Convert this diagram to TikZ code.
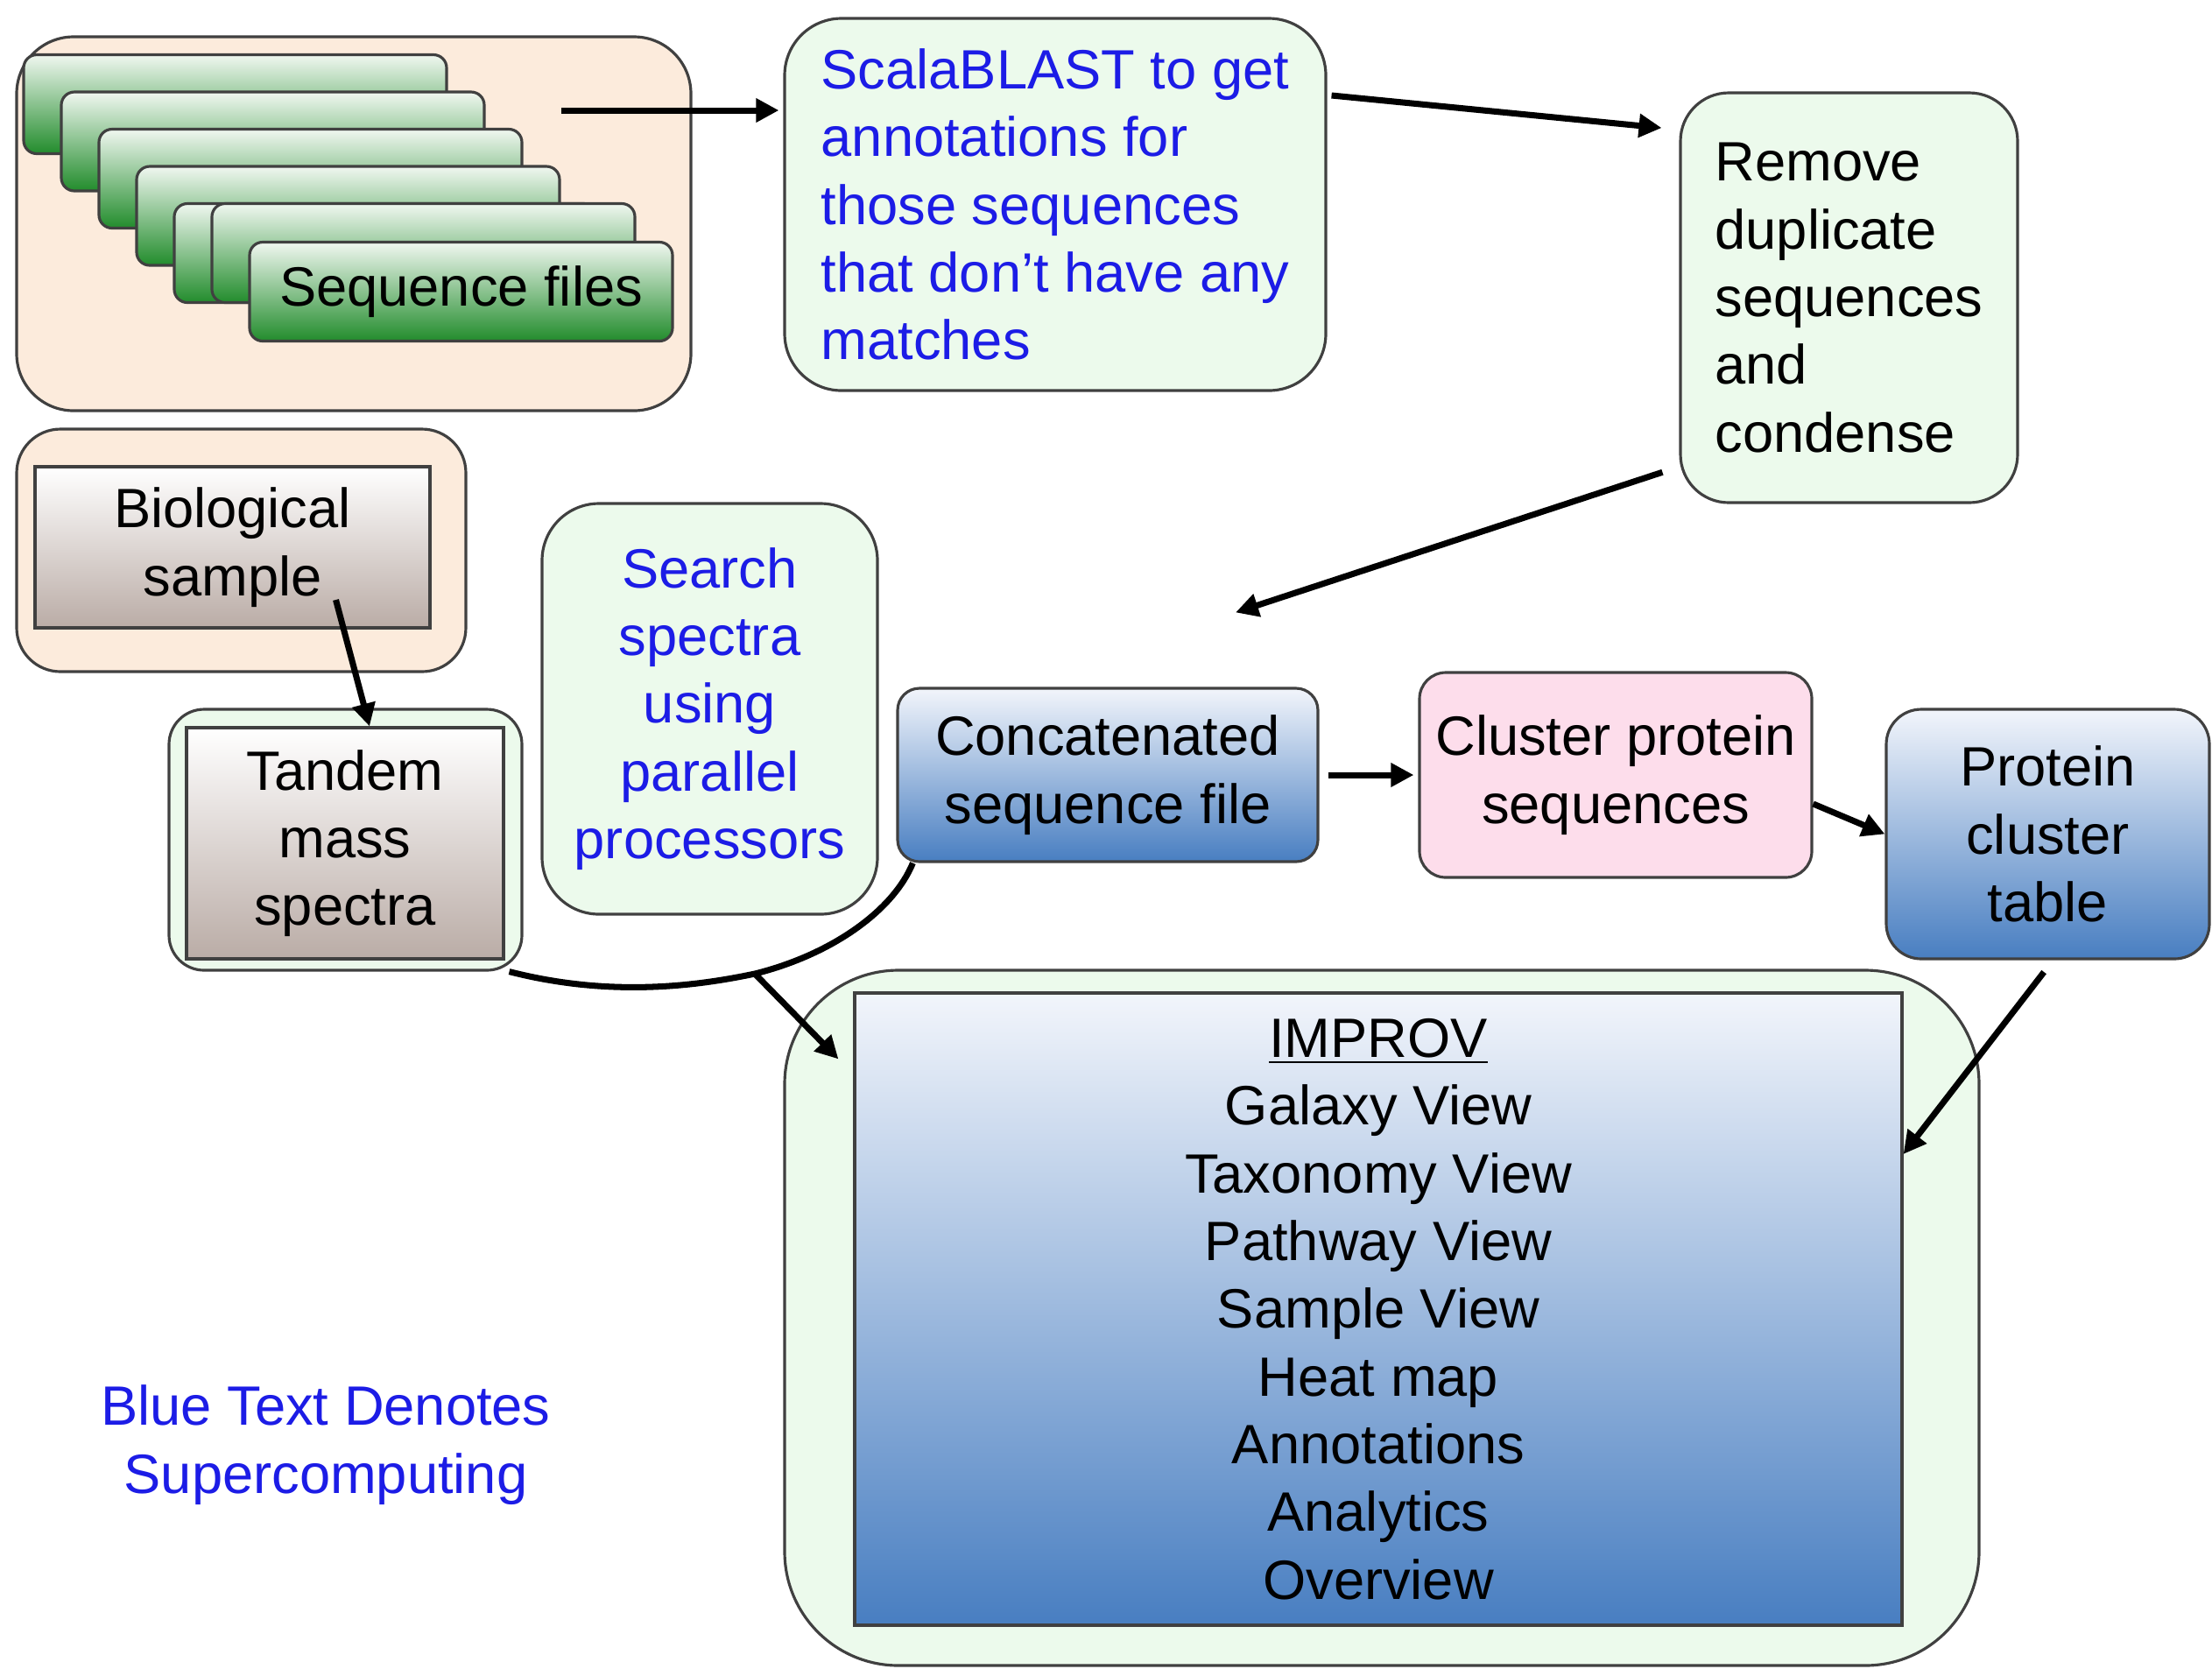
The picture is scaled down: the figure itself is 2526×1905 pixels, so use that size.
\documentclass[tikz,border=0pt]{standalone}
\usepackage{fontspec}
\setmainfont{Liberation Sans}
\usetikzlibrary{positioning,arrows.meta}
\definecolor{colorpeach}    {RGB}{252,235,220}
\definecolor{colormint}     {RGB}{236,250,236}
\definecolor{colorpink}     {RGB}{253,221,235}
\definecolor{colorline}     {RGB}{64 ,64 ,64 }
\definecolor{colorblue}     {RGB}{28 ,28 ,230}
\definecolor{colorsky}      {RGB}{242,245,251}
\definecolor{colorsteel}    {RGB}{72 ,126,193}
\definecolor{colorfog}      {RGB}{240,247,240}
\definecolor{colorleaf}     {RGB}{34 ,140,44 }
\definecolor{colortaupe}    {RGB}{186,172,166}

\begin{document}
\begin{tikzpicture}[
    x=0.1mm, y=-0.1mm,
    font={\fontsize{18}{22}\selectfont},
    panel/.style={draw=colorline,line width=0.9pt,fill=colormint,rounded corners=6mm},
    peach/.style={panel,fill=colorpeach},
    filebox/.style={draw=colorline,line width=0.9pt,rounded corners=1.5mm,top color=colorfog,bottom color=colorleaf,minimum width=48.3mm,minimum height=11.3mm},
    sample/.style={draw=colorline,line width=0.9pt,top color=white,bottom color=colortaupe,align=center},
    result/.style={draw=colorline,line width=0.9pt,rounded corners=3mm,top color=colorsky,bottom color=colorsteel,align=center},
    arr/.style={line width=2pt,-{Triangle[length=2.6mm,width=2.6mm]}},
    link/.style={line width=2pt},
]
    \useasboundingbox (0,0) rectangle (2526,1905);

    \node[peach,minimum width=77mm,minimum height=42.7mm,rounded corners=6.5mm] (seqgroup) at (404,255.5) {};
    \foreach \i/\j in {0/0,1/1,2/2,3/3,4/4,5/4}
        \node[filebox] (file\i) at ({268.5+43*\i},{119+42.5*\j}) {};
    \node[filebox] (seqfiles) at (526.5,333) {Sequence files};
    \coordinate (seqout) at (641,126);

    \node[panel,text=colorblue,align=left,minimum width=61.8mm,minimum height=42.5mm,rounded corners=6.5mm] (scala) at (1205,233.5) {ScalaBLAST to get\\
    annotations for\\
    those sequences\\
    that don’t have any\\
    matches};
    \node[panel,align=left,minimum width=38.5mm,minimum height=46.8mm,rounded corners=5.5mm] (remove) at (2111.5,340) {Remove\\
    duplicate\\
    sequences\\
    and\\
    condense};

    \node[peach,minimum width=51.3mm,minimum height=27.7mm,rounded corners=5mm] (biogroup) at (275.5,628.5) {};
    \node[sample,minimum width=45.1mm,minimum height=18.4mm] (bio) at (265.5,625) {Biological\\sample};
    \node[panel,minimum width=40.3mm,minimum height=29.8mm,rounded corners=4mm] (tandemgroup) at (394.5,959) {};
    \node[sample,minimum width=36.2mm,minimum height=26.4mm] (tandem) at (394,963) {Tandem\\mass\\spectra};

    \node[panel,text=colorblue,align=center,minimum width=38.3mm,minimum height=46.9mm,rounded corners=6.5mm] (search) at (810.5,809.5) {Search\\
    spectra\\
    using\\
    parallel\\
    processors};

    \node[result,minimum width=48mm,minimum height=19.8mm,rounded corners=2.5mm] (concat) at (1265,885) {Concatenated\\sequence file};
    \node[panel,fill=colorpink,align=center,inner xsep=1mm,minimum width=44.8mm,minimum height=23.4mm,rounded corners=3mm] (cluster) at (1845,885) {Cluster protein\\sequences};
    \node[result,minimum width=36.9mm,minimum height=28.5mm,rounded corners=4mm] (table) at (2338.5,952.5) {Protein\\cluster\\table};

    \node[panel,minimum width=136.4mm,minimum height=79.4mm,rounded corners=13mm] (improvgroup) at (1578,1505) {};
    \node[result,sharp corners,minimum width=119.6mm,minimum height=72.2mm] (improv) at (1574,1495) {\underline{IMPROV}\\
    Galaxy View\\
    Taxonomy View\\
    Pathway View\\
    Sample View\\
    Heat map\\
    Annotations\\
    Analytics\\
    Overview};

    \node[text=colorblue,align=center] (legend) at (372,1650) {Blue Text Denotes\\Supercomputing};

    \draw[arr,shorten >=0.5mm] (seqout) -- (seqout -| scala.west);
    \draw[arr,shorten <=0.5mm,shorten >=2mm] ([yshift=12.5mm]scala.east) -- ([yshift=19.2mm]remove.west);
    \draw[arr,shorten <=2mm] ([yshift=-19.3mm]remove.west) -- ([xshift=14.6mm,yshift=8.5mm]concat.north);
    \draw[arr] ([xshift=11.8mm,yshift=-6mm]bio.center) -- ([xshift=2.8mm]tandem.north);
    \draw[arr,shorten <=1mm,shorten >=0.5mm] (concat) -- (cluster);
    \draw[arr] ([yshift=-3.3mm]cluster.east) -- (table.west);
    \draw[arr,shorten <=1.7mm] ([xshift=0.6mm]table.south) -- ([yshift=17.7mm]improv.east);

    \coordinate (merge) at (862,1112);
    \draw[link] ([xshift=-1.6mm]tandemgroup.south east) .. controls (700,1140) and (800,1125) .. (merge)
        .. controls (950,1090) and (1020,1040) .. ([xshift=1.9mm]concat.south west);
    \draw[arr] (merge) -- ([xshift=-1.7mm,yshift=-7.7mm]improv.north west);

\end{tikzpicture}
\end{document}
